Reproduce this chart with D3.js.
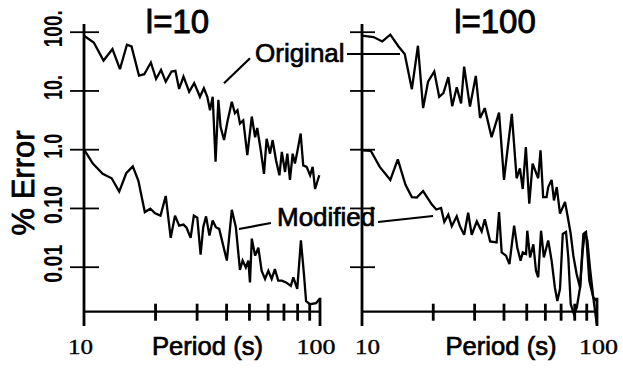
<!DOCTYPE html>
<html>
<head>
<meta charset="utf-8">
<script src="https://cdn.jsdelivr.net/npm/d3@7/dist/d3.min.js"></script>
<style>
  html, body { margin: 0; padding: 0; background: #fff; }
  svg { display: block; }
</style>
</head>
<body>
<svg id="chart" width="623" height="368"></svg>
<script>
// ---------- data (period in s, % error) ----------
const panelTitles = ["l=10", "l=100"];
const seriesNames = ["Original", "Modified"];
const yTickValues = [100, 10, 1, 0.1, 0.01];
const yTickLabels = ["100.", "10.", "1.0", "0.10", "0.01"];
const xMinorTicks = [20, 30, 40, 50, 60, 70, 80, 90];
const xTickLabelValues = [10, 100];
const xTickLabels = ["10", "100"];
const xAxisTitle = "Period (s)";
const yAxisTitle = "% Error";

const leftOriginalPeriod = [10.0, 11.0, 12.1, 13.2, 14.2, 15.2, 15.9, 17.1, 18.0, 19.2, 20.2, 21.2, 22.2, 23.5, 24.4, 25.3, 26.4, 27.9, 29.3, 31.0, 32.2, 33.3, 34.2, 35.1, 36.1, 37.1, 37.9, 39.2, 40.5, 42.3, 43.6, 44.7, 45.8, 47.3, 49.2, 51.4, 53.1, 54.2, 56.1, 57.9, 59.4, 61.4, 63.0, 65.1, 67.3, 68.9, 71.1, 72.7, 74.6, 76.6, 78.3, 80.1, 82.8, 84.9, 87.8, 90.8, 93.1, 95.3, 99.3];
const leftOriginalError = [85.5, 65.6, 32.3, 50.6, 23.0, 60.0, 56.1, 17.9, 18.9, 29.9, 15.7, 22.4, 14.1, 21.0, 21.5, 10.6, 17.2, 9.5, 13.3, 7.8, 10.9, 7.8, 4.6, 7.8, 0.61, 6.9, 2.4, 1.43, 2.9, 6.4, 4.1, 4.6, 2.75, 3.1, 0.79, 3.6, 1.6, 2.3, 0.96, 0.38, 1.5, 0.84, 1.43, 0.65, 0.36, 0.90, 0.41, 0.84, 0.30, 0.84, 0.57, 0.90, 1.85, 0.53, 0.50, 0.36, 0.50, 0.21, 0.36];

const leftModifiedPeriod = [10.0, 10.9, 12.0, 13.1, 14.1, 15.1, 16.1, 17.0, 18.1, 19.1, 20.0, 21.1, 22.2, 23.3, 24.3, 25.3, 26.4, 27.2, 28.3, 29.2, 30.2, 31.2, 32.0, 32.9, 34.0, 35.1, 36.2, 37.4, 40.3, 42.3, 44.0, 45.8, 47.0, 48.5, 49.7, 50.5, 51.4, 53.1, 54.8, 56.6, 58.5, 60.4, 62.4, 64.4, 66.5, 68.9, 71.8, 75.2, 77.1, 80.1, 83.0, 85.5, 87.3, 90.8, 96.2, 99.3];
const leftModifiedError = [0.99, 0.57, 0.38, 0.32, 0.19, 0.39, 0.51, 0.29, 0.085, 0.097, 0.081, 0.074, 0.16, 0.031, 0.074, 0.050, 0.052, 0.046, 0.031, 0.074, 0.068, 0.016, 0.047, 0.072, 0.034, 0.061, 0.047, 0.044, 0.0127, 0.093, 0.047, 0.0088, 0.0127, 0.0097, 0.0127, 0.0054, 0.030, 0.0154, 0.021, 0.0085, 0.0062, 0.0085, 0.0062, 0.0091, 0.0058, 0.0058, 0.0054, 0.0047, 0.0066, 0.0042, 0.028, 0.0075, 0.0026, 0.0023, 0.0024, 0.0028];

const rightOriginalPeriod = [10.0, 11.2, 12.2, 13.2, 14.3, 15.2, 16.3, 17.3, 18.2, 19.1, 20.3, 21.3, 22.2, 23.3, 24.2, 25.3, 26.4, 27.2, 28.8, 30.5, 31.8, 33.3, 35.6, 38.3, 40.2, 41.5, 43.4, 45.5, 47.0, 48.3, 49.8, 51.5, 53.2, 56.2, 57.5, 59.0, 61.0, 62.0, 64.1, 65.6, 67.4, 69.6, 73.1, 75.1, 77.3, 79.3, 81.9, 84.7, 87.5, 89.8, 92.7, 96.4, 100];
const rightOriginalError = [85.5, 81.1, 68.2, 88.9, 56.1, 41.6, 10.5, 57.7, 5.0, 14.1, 21.0, 7.8, 9.0, 16.8, 5.4, 11.3, 6.0, 25.5, 5.3, 17.7, 3.4, 5.0, 1.6, 4.2, 0.30, 0.90, 4.0, 0.32, 0.47, 0.21, 1.09, 0.118, 0.57, 0.32, 0.96, 0.153, 0.153, 0.227, 0.30, 0.134, 0.227, 0.080, 0.126, 0.070, 0.036, 0.0154, 0.0075, 0.0044, 0.036, 0.039, 0.0058, 0.0030, 0.0026];

const rightModifiedPeriod = [10.0, 10.9, 11.9, 13.2, 14.2, 15.3, 16.3, 17.1, 18.2, 19.8, 20.7, 21.7, 22.4, 23.3, 24.1, 25.3, 26.1, 27.2, 28.3, 29.3, 30.8, 32.3, 33.3, 35.1, 37.4, 38.3, 39.3, 41.0, 42.4, 44.4, 45.8, 47.3, 48.3, 49.9, 50.5, 51.9, 53.6, 55.0, 56.2, 57.8, 59.4, 62.0, 64.1, 66.2, 67.8, 69.6, 71.5, 73.8, 75.5, 77.3, 79.8, 82.0, 84.7, 86.9, 88.9, 91.0, 93.3, 96.4, 99.8];
const rightModifiedError = [0.96, 0.94, 0.50, 0.30, 0.67, 0.25, 0.153, 0.15, 0.194, 0.115, 0.094, 0.10, 0.058, 0.077, 0.049, 0.072, 0.049, 0.035, 0.083, 0.035, 0.059, 0.040, 0.064, 0.027, 0.026, 0.085, 0.0175, 0.0154, 0.0111, 0.050, 0.021, 0.0127, 0.0175, 0.0165, 0.041, 0.0144, 0.024, 0.0085, 0.0066, 0.041, 0.0144, 0.028, 0.0127, 0.0044, 0.0026, 0.0042, 0.036, 0.039, 0.0144, 0.0023, 0.00155, 0.0020, 0.0044, 0.0188, 0.039, 0.028, 0.0097, 0.0030, 0.00105];

// ---------- layout ----------
const svg = d3.select("#chart");
const sans = "'Liberation Sans', Arial, Helvetica, sans-serif";
const serif = "'Liberation Serif', 'Times New Roman', serif";
const textStroke = 0.7;

const y = d3.scaleLog().domain([0.01, 100]).range([266.7, 31.7]);
const xAxisY = 311.7, axisTop = 24, axisBottom = 326;

const panels = [
  { x0: 84, x1: 320, title: 0, titleX: 177.5, tickL: 14, tickR: 15, labDx: [-3.5, -4],
    series: [[leftOriginalPeriod, leftOriginalError], [leftModifiedPeriod, leftModifiedError]], yLabels: true, periodX: 207.5 },
  { x0: 362, x1: 597, title: 1, titleX: 495, tickL: 12, tickR: 13, labDx: [5.5, 1.5],
    series: [[rightOriginalPeriod, rightOriginalError], [rightModifiedPeriod, rightModifiedError]], yLabels: false, periodX: 501 }
];

panels.forEach(p => {
  const x = d3.scaleLog().domain([10, 100]).range([p.x0, p.x1]);
  const g = svg.append("g");

  // y axis (ticks crossing the axis line)
  const yAx = g.append("g").attr("transform", `translate(${p.x0},0)`)
    .call(d3.axisLeft(y).tickValues(yTickValues).tickSize(p.tickL).tickFormat(""));
  yAx.select(".domain").remove();
  yAx.selectAll(".tick line").attr("x1", p.tickR).attr("stroke", "#000").attr("stroke-width", 1.8);
  g.append("line").attr("x1", p.x0).attr("x2", p.x0).attr("y1", axisTop).attr("y2", axisBottom)
    .attr("stroke", "#000").attr("stroke-width", 2.8);

  // x axis
  const xAx = g.append("g").attr("transform", `translate(0,${xAxisY})`)
    .call(d3.axisBottom(x).tickValues(xMinorTicks).tickSize(9).tickFormat(""));
  xAx.select(".domain").remove();
  xAx.selectAll(".tick line").attr("y1", -8).attr("stroke", "#000").attr("stroke-width", 2.8);
  g.append("line").attr("x1", p.x0).attr("x2", x(100)).attr("y1", xAxisY).attr("y2", xAxisY)
    .attr("stroke", "#000").attr("stroke-width", 2.2);
  g.append("line").attr("x1", x(100)).attr("x2", x(100)).attr("y1", xAxisY - 14).attr("y2", axisBottom)
    .attr("stroke", "#000").attr("stroke-width", 2.8);

  // x tick labels (serif)
  xTickLabelValues.forEach((v, i) => {
    g.append("text").attr("x", x(v) + p.labDx[i]).attr("y", 354)
      .attr("text-anchor", "middle").attr("font-family", serif).attr("font-size", 22)
      .attr("stroke", "#000").attr("stroke-width", 0.4)
      .attr("textLength", i === 0 ? 25 : 39).attr("lengthAdjust", "spacingAndGlyphs")
      .text(xTickLabels[i]);
  });

  // x axis title
  g.append("text").attr("x", p.periodX).attr("y", 355).attr("text-anchor", "middle")
    .attr("font-family", sans).attr("font-size", 25)
    .attr("stroke", "#000").attr("stroke-width", textStroke)
    .attr("textLength", 111).attr("lengthAdjust", "spacingAndGlyphs")
    .text(xAxisTitle);

  // panel title
  g.append("text").attr("x", p.titleX).attr("y", 33).attr("text-anchor", "middle")
    .attr("font-family", sans).attr("font-size", 33)
    .attr("stroke", "#000").attr("stroke-width", 0.9)
    .text(panelTitles[p.title]);

  // y tick labels (rotated, condensed)
  if (p.yLabels) {
    const lens = [37, 25, 25, 38, 38];
    yTickValues.forEach((v, i) => {
      g.append("text").attr("transform", `translate(62,${y(v) - 3}) rotate(-90)`)
        .attr("text-anchor", "middle").attr("font-family", sans).attr("font-weight", "bold")
        .attr("font-size", 26).attr("textLength", lens[i]).attr("lengthAdjust", "spacingAndGlyphs")
        .text(yTickLabels[i]);
    });
  }

  // data lines
  const line = d3.line().x(d => x(d[0])).y(d => y(d[1]));
  p.series.forEach(([per, err]) => {
    g.append("path").datum(per.map((v, i) => [v, err[i]]))
      .attr("d", line).attr("fill", "none").attr("stroke", "#000")
      .attr("stroke-width", 2.3).attr("stroke-linejoin", "miter").attr("stroke-miterlimit", 3);
  });
});

// y axis title
svg.append("text").attr("transform", "translate(34,183) rotate(-90)")
  .attr("text-anchor", "middle").attr("font-family", sans).attr("font-size", 31)
  .attr("stroke", "#000").attr("stroke-width", 0.8)
  .text(yAxisTitle);

// series annotations with leader lines
const annotations = [
  { text: seriesNames[0], tx: 255, ty: 61.5, lines: [[224, 83.3, 250, 58.3], [347, 54, 400, 54]] },
  { text: seriesNames[1], tx: 277, ty: 226, lines: [[239, 229, 271, 223], [378, 222, 433, 216]] }
];
annotations.forEach(a => {
  a.lines.forEach(l => svg.append("line").attr("x1", l[0]).attr("y1", l[1]).attr("x2", l[2]).attr("y2", l[3])
    .attr("stroke", "#000").attr("stroke-width", 2.2));
  svg.append("text").attr("x", a.tx).attr("y", a.ty).attr("font-family", sans).attr("font-size", 26)
    .attr("stroke", "#000").attr("stroke-width", textStroke)
    .text(a.text);
});
</script>
</body>
</html>
